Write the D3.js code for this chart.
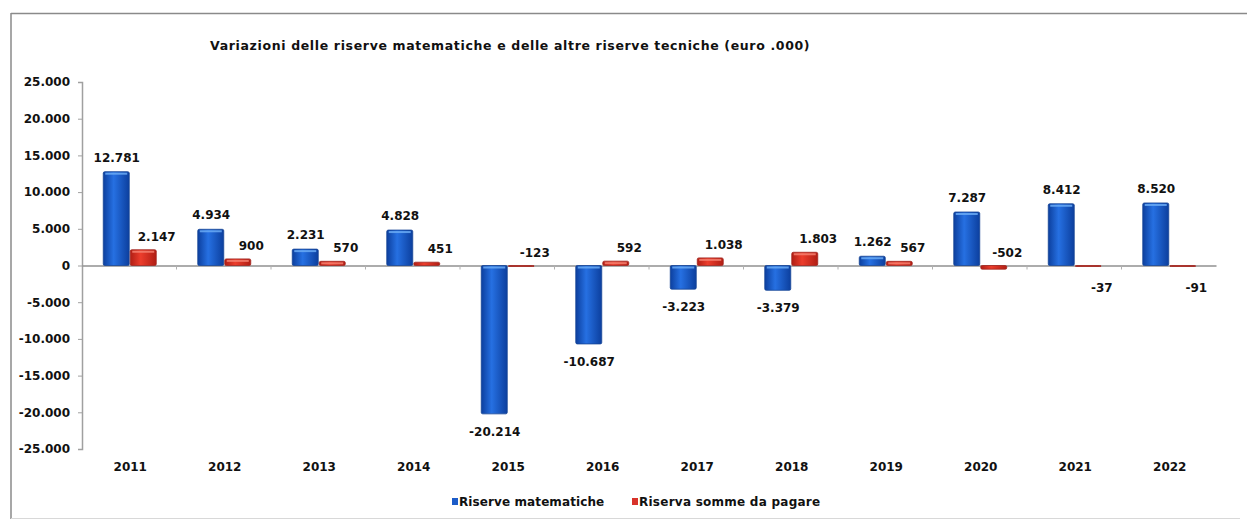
<!DOCTYPE html>
<html>
<head>
<meta charset="utf-8">
<script src="https://cdn.jsdelivr.net/npm/d3@7.9.0/dist/d3.min.js"></script>
<style>
  html, body { margin: 0; padding: 0; background: #fff; }
  svg { display: block; font-family: "DejaVu Sans", Verdana, sans-serif; }
</style>
</head>
<body>
<svg id="chart" width="1247" height="522"></svg>
<script>
const TITLE = 'Variazioni delle riserve matematiche e delle altre riserve tecniche (euro .000)';
const years = ['2011', '2012', '2013', '2014', '2015', '2016', '2017', '2018', '2019', '2020', '2021', '2022'];
const riserveMatematiche = [12781, 4934, 2231, 4828, -20214, -10687, -3223, -3379, 1262, 7287, 8412, 8520];
const riservaSomme = [2147, 900, 570, 451, -123, 592, 1038, 1803, 567, -502, -37, -91];
const seriesNames = ['Riserve matematiche', 'Riserva somme da pagare'];
const yTicks = [25000, 20000, 15000, 10000, 5000, 0, -5000, -10000, -15000, -20000, -25000];

// the red labels that the original puts under the axis
const redBelow = new Set(['2021', '2022']);

const it = d3.formatLocale({ decimal: ',', thousands: '.', grouping: [3], currency: ['€', ''], minus: '-' });
const fmt = it.format(',d');

const svg = d3.select('#chart');
const margin = { left: 82, right: 31, top: 82, bottom: 73 };
const W = 1247, H = 522;
const FONT = '"DejaVu Sans", Verdana, sans-serif';

const x0 = d3.scaleBand().domain(years).range([margin.left, W - margin.right]);
const groupW = 54;
const x1 = d3.scaleBand().domain([0, 1]).range([0, groupW]);
const y = d3.scaleLinear().domain([-25000, 25000]).range([H - margin.bottom, margin.top]);

// gradients
const defs = svg.append('defs');
const grad = (id, edge, mid) => {
  const g = defs.append('linearGradient').attr('id', id).attr('x1', 0).attr('x2', 1).attr('y1', 0).attr('y2', 0);
  g.append('stop').attr('offset', '0%').attr('stop-color', edge);
  g.append('stop').attr('offset', '40%').attr('stop-color', mid);
  g.append('stop').attr('offset', '100%').attr('stop-color', edge);
};
grad('gBlue', '#0c3f9e', '#2670e2');
grad('gRed', '#b01e14', '#ec3d2c');
const colors = ['url(#gBlue)', 'url(#gRed)'];
const solid = ['#1d5cc8', '#d8322a'];
const tops = ['#6aaaf4', '#f58070'];

// frame (top, left, faint bottom – the scan has no right edge)
const frame = svg.append('g').attr('stroke', '#8a8a8a').attr('stroke-width', 1.5);
frame.append('line').attr('x1', 11).attr('x2', 1247).attr('y1', 13.5).attr('y2', 13.5);
frame.append('line').attr('x1', 11).attr('x2', 11).attr('y1', 13).attr('y2', 519);
frame.append('line').attr('x1', 11).attr('x2', 1240).attr('y1', 518.5).attr('y2', 518.5)
  .attr('stroke', '#d8d8d8').attr('stroke-width', 1);

svg.append('text').attr('x', 210).attr('y', 50).attr('font-size', 12.5).attr('font-weight', 'bold')
  .attr('letter-spacing', 0.65).attr('fill', '#111').text(TITLE);

// y axis
const yAxis = svg.append('g').attr('transform', `translate(${margin.left},0)`)
  .call(d3.axisLeft(y).tickValues(yTicks).tickFormat(fmt).tickSize(4).tickPadding(8))
  .attr('font-family', FONT);
yAxis.select('.domain').attr('stroke', '#a0a0a0').attr('stroke-width', 1.5);
yAxis.selectAll('.tick line').attr('stroke', '#a0a0a0');
yAxis.selectAll('.tick text').attr('font-size', 12).attr('font-weight', 'bold').attr('fill', '#111');

// x axis at zero
const xAxis = svg.append('g').attr('transform', `translate(0,${y(0)})`)
  .call(d3.axisBottom(x0).tickSize(0).tickFormat(''));
xAxis.select('.domain').attr('stroke', '#909090').attr('stroke-width', 1.5);
xAxis.selectAll('.sep').data(years.slice(1)).join('line').attr('class', 'sep')
  .attr('x1', d => x0(d)).attr('x2', d => x0(d)).attr('y1', 0).attr('y2', 4).attr('stroke', '#b0b0b0');

// year labels
svg.append('g').selectAll('text').data(years).join('text')
  .attr('x', d => x0(d) + x0.bandwidth() / 2 + 1).attr('y', 471)
  .attr('text-anchor', 'middle').attr('font-size', 12).attr('font-weight', 'bold').attr('fill', '#111')
  .text(d => d);

const rows = years.map((yr, i) => ({ year: yr, vals: [riserveMatematiche[i], riservaSomme[i]] }));
const groups = svg.append('g').selectAll('g').data(rows).join('g')
  .attr('transform', d => `translate(${x0(d.year) + (x0.bandwidth() - groupW) / 2 + 1},0)`);

const bars = groups.selectAll('g.bar').data(d => d.vals.map((v, k) => ({ v, k, year: d.year }))).join('g').attr('class', 'bar');
bars.append('rect')
  .attr('x', d => x1(d.k)).attr('width', x1.bandwidth() - 1)
  .attr('y', d => y(Math.max(0, d.v))).attr('height', d => Math.max(1, Math.abs(y(d.v) - y(0))))
  .attr('fill', d => colors[d.k]).attr('stroke', d => d3.color(solid[d.k]).darker(0.8)).attr('stroke-width', 0.8)
  .attr('rx', 1.5);
bars.filter(d => Math.abs(y(d.v) - y(0)) > 4).append('rect')
  .attr('x', d => x1(d.k) + 2).attr('width', x1.bandwidth() - 5)
  .attr('y', d => y(Math.max(0, d.v)) + 1).attr('height', 2)
  .attr('fill', d => tops[d.k]).attr('opacity', 0.85);

// value labels
bars.append('text')
  .attr('x', d => x1(d.k) + x1.bandwidth() / 2 + (d.k === 1 ? 13 : 0))
  .attr('y', d => {
    if (d.k === 0) return d.v >= 0 ? y(d.v) - 10 : y(d.v) + 22;
    if (redBelow.has(d.year)) return y(0) + 26;
    return y(Math.max(0, d.v)) - 9;
  })
  .attr('text-anchor', 'middle').attr('font-size', 12).attr('font-weight', 'bold').attr('fill', '#111')
  .text(d => fmt(d.v));

// legend
const legend = svg.append('g').attr('transform', 'translate(452,506)');
const legendX = [0, 180];
seriesNames.forEach((name, k) => {
  const g = legend.append('g').attr('transform', `translate(${legendX[k]},0)`);
  g.append('rect').attr('x', 0).attr('y', -8).attr('width', 6).attr('height', 7).attr('fill', solid[k]);
  g.append('text').attr('x', 7).attr('y', 0).attr('font-size', 12).attr('font-weight', 'bold')
    .attr('letter-spacing', k === 1 ? 0.25 : 0.1).attr('fill', '#111').text(name);
});
</script>
</body>
</html>
